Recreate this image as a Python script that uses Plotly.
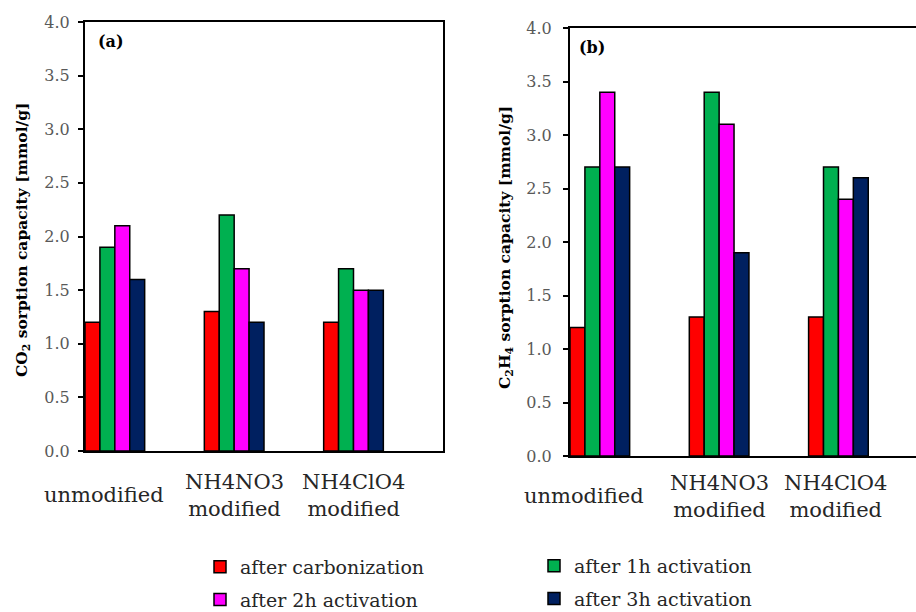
import plotly.graph_objects as go

categories = ["unmodified", "NH4NO3<br>modified", "NH4ClO4<br>modified"]
series_names = ["after carbonization", "after 1h activation",
                "after 2h activation", "after 3h activation"]
co2_carbonization = [1.2, 1.3, 1.2]
co2_1h = [1.9, 2.2, 1.7]
co2_2h = [2.1, 1.7, 1.5]
co2_3h = [1.6, 1.2, 1.5]
c2h4_carbonization = [1.2, 1.3, 1.3]
c2h4_1h = [2.7, 3.4, 2.7]
c2h4_2h = [3.4, 3.1, 2.4]
c2h4_3h = [2.7, 1.9, 2.6]
y_ticks = [0.0, 0.5, 1.0, 1.5, 2.0, 2.5, 3.0, 3.5, 4.0]
y_title_left = "<b>CO<sub>2</sub> sorption capacity [mmol/g]</b>"
y_title_right = "<b>C<sub>2</sub>H<sub>4</sub> sorption capacity [mmol/g]</b>"

colors = ["#FF0000", "#00B050", "#FF00FF", "#002060"]
legend_of_series = ["legend", "legend2", "legend", "legend2"]
W, H = 916, 612
FONT = "DejaVu Serif"
xpos = list(range(len(categories)))

fig = go.Figure()
co2 = [co2_carbonization, co2_1h, co2_2h, co2_3h]
c2h4 = [c2h4_carbonization, c2h4_1h, c2h4_2h, c2h4_3h]
bw = 0.125
for i, (name, vals) in enumerate(zip(series_names, co2)):
    fig.add_trace(go.Bar(x=xpos, y=vals, name=name, width=bw, offset=-0.5 + bw * i,
                         marker=dict(color=colors[i], line=dict(color="black", width=1.5)),
                         xaxis="x", yaxis="y", showlegend=True,
                         legend=legend_of_series[i], legendgroup=name))
for i, (name, vals) in enumerate(zip(series_names, c2h4)):
    fig.add_trace(go.Bar(x=xpos, y=vals, name=name, width=bw, offset=-0.5 + bw * i,
                         marker=dict(color=colors[i], line=dict(color="black", width=1.5)),
                         xaxis="x2", yaxis="y2", showlegend=False,
                         legend=legend_of_series[i], legendgroup=name))

def px_x(p):
    return p / W

def px_y(p):
    return 1 - p / H

band_px = 119.3
right_span = (W - 570) / band_px

xcommon = dict(showticklabels=False, ticks="", showgrid=False, zeroline=False,
               showline=True, linecolor="black", linewidth=2, automargin=False)
ycommon = dict(tickvals=y_ticks, tickformat=".1f", range=[0, 4], ticks="outside", ticklen=5,
               tickcolor="black", tickwidth=1.5, showgrid=False, zeroline=False,
               showline=True, linecolor="black", linewidth=2, automargin=False,
               tickfont=dict(family=FONT, size=16, color="#595959"))
legend_common = dict(orientation="v", xanchor="left", yanchor="top", tracegroupgap=5,
                     xref="container", yref="container",
                     font=dict(family=FONT, size=19, color="#262626"), bgcolor="rgba(0,0,0,0)")

fig.update_layout(
    width=W, height=H, margin=dict(l=0, r=0, t=0, b=0, autoexpand=False),
    paper_bgcolor="white", plot_bgcolor="white", barmode="overlay",
    xaxis=dict(domain=[px_x(85), px_x(443)], range=[-0.5, 2.5], mirror=True, anchor="y", **xcommon),
    yaxis=dict(domain=[px_y(451), px_y(22)], mirror=True, anchor="x", ticklabelstandoff=5, **ycommon),
    xaxis2=dict(domain=[px_x(570), 1.0], range=[-0.5, -0.5 + right_span], mirror=True, anchor="y2", **xcommon),
    yaxis2=dict(domain=[px_y(456), px_y(28)], mirror=False, anchor="x2", ticklabelstandoff=8, **ycommon),
    legend=dict(x=px_x(200), y=px_y(548), **legend_common),
    legend2=dict(x=px_x(534), y=px_y(547), **legend_common),
)

annotations = []
shifts = [-11, 0, 0]
for j, cat in enumerate(categories):
    annotations.append(dict(x=xpos[j] - 0.25, y=px_y(495), xref="x", yref="paper", text=cat,
                            showarrow=False, xanchor="center", yanchor="middle", xshift=shifts[j],
                            font=dict(family=FONT, size=21, color="#262626")))
shifts2 = [-16, 0, -3]
for j, cat in enumerate(categories):
    annotations.append(dict(x=xpos[j] - 0.25, y=px_y(496), xref="x2", yref="paper", text=cat,
                            showarrow=False, xanchor="center", yanchor="middle", xshift=shifts2[j],
                            font=dict(family=FONT, size=21, color="#262626")))
annotations.append(dict(x=px_x(23), y=px_y(240), xref="paper", yref="paper", text=y_title_left,
                        textangle=-90, showarrow=False, xanchor="center", yanchor="middle",
                        font=dict(family=FONT, size=15.5, color="black")))
annotations.append(dict(x=px_x(505), y=px_y(248), xref="paper", yref="paper", text=y_title_right,
                        textangle=-90, showarrow=False, xanchor="center", yanchor="middle",
                        font=dict(family=FONT, size=15.5, color="black")))
annotations.append(dict(x=px_x(96), y=px_y(42), xref="paper", yref="paper", text="<b>(a)</b>",
                        showarrow=False, xanchor="left", yanchor="middle",
                        font=dict(family=FONT, size=16, color="black")))
annotations.append(dict(x=px_x(577), y=px_y(48), xref="paper", yref="paper", text="<b>(b)</b>",
                        showarrow=False, xanchor="left", yanchor="middle",
                        font=dict(family=FONT, size=16, color="black")))
fig.update_layout(annotations=annotations)

fig.write_html("out.html")
